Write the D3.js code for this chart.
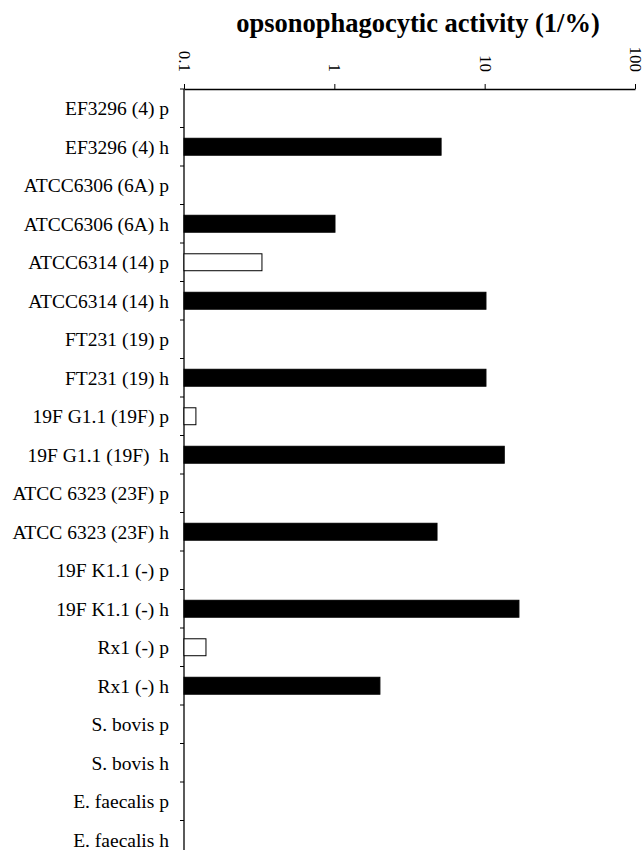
<!DOCTYPE html>
<html>
<head>
<meta charset="utf-8">
<script src="https://cdn.jsdelivr.net/npm/d3@7"></script>
<style>
  body { margin: 0; background: #fff; }
  svg { display: block; font-family: "Liberation Serif", "Times New Roman", serif; }
</style>
</head>
<body>
<div class="container"></div>
<script>
// strains, p = pre-immune, h = hyperimmune
const categories = [
  "EF3296 (4) p", "EF3296 (4) h",
  "ATCC6306 (6A) p", "ATCC6306 (6A) h",
  "ATCC6314 (14) p", "ATCC6314 (14) h",
  "FT231 (19) p", "FT231 (19) h",
  "19F G1.1 (19F) p", "19F G1.1 (19F)  h",
  "ATCC 6323 (23F) p", "ATCC 6323 (23F) h",
  "19F K1.1 (-) p", "19F K1.1 (-) h",
  "Rx1 (-) p", "Rx1 (-) h",
  "S. bovis p", "S. bovis h",
  "E. faecalis p", "E. faecalis h"
];
// opsonophagocytic activity (1/%), null = no bar
const activity = [
  null, 5.13,
  null, 1.01,
  0.33, 10.2,
  null, 10.2,
  0.12, 13.5,
  null, 4.82,
  null, 16.9,
  0.14, 2.01,
  null, null,
  null, null
];
const tickValues = [0.1, 1, 10, 100];
const tickLabels = ["0.1", "1", "10", "100"];

const width = 644, height = 850;
const svg = d3.select('.container').append('svg')
  .attr('width', width)
  .attr('height', height);

const x = d3.scaleLog().domain([0.1, 100]).range([184, 635]);
const y = d3.scaleBand().domain(categories).range([89, 89 + 20 * 38.5]).paddingInner(0.56).paddingOuter(0.28);

// title
svg.append('text')
  .attr('x', 418)
  .attr('y', 32)
  .attr('text-anchor', 'middle')
  .attr('font-size', 26.5)
  .attr('font-weight', 'bold')
  .text('opsonophagocytic activity (1/%)');

// top axis
const topAxis = svg.append('g')
  .attr('transform', 'translate(0,89)')
  .call(d3.axisTop(x).tickValues(tickValues).tickSize(5).tickSizeOuter(0)
    .tickFormat((d, i) => tickLabels[i]));
topAxis.select('.domain').attr('stroke', '#000').attr('stroke-width', 1.3);
topAxis.selectAll('.tick line').attr('stroke', '#000');
topAxis.selectAll('.tick text')
  .attr('font-size', 17)
  .attr('font-family', '"Liberation Serif", serif')
  .attr('fill', '#000')
  .attr('text-anchor', 'end')
  .attr('dy', null)
  .attr('transform', 'translate(0,-17) rotate(90)')
  .attr('x', 0)
  .attr('y', 0)
  .attr('dominant-baseline', 'central');

// left axis: line + ticks at band boundaries
const leftAxis = svg.append('g');
leftAxis.append('line')
  .attr('x1', x(0.1)).attr('x2', x(0.1))
  .attr('y1', 89).attr('y2', height + 20)
  .attr('stroke', '#000').attr('stroke-width', 1.3);
leftAxis.selectAll('line.bound')
  .data(categories)
  .join('line')
  .attr('class', 'bound')
  .attr('x1', x(0.1) - 4).attr('x2', x(0.1))
  .attr('y1', d => y(d) - y.step() * y.paddingInner() / 2)
  .attr('y2', d => y(d) - y.step() * y.paddingInner() / 2)
  .attr('stroke', '#000');

leftAxis.selectAll('text')
  .data(categories)
  .join('text')
  .attr('x', 169)
  .attr('y', d => y(d) + y.bandwidth() / 2)
  .attr('dy', '0.35em')
  .attr('text-anchor', 'end')
  .attr('font-size', 19.5)
  .style('white-space', 'pre')
  .text(d => d);

// bars
const rows = categories.map((c, i) => ({ cat: c, value: activity[i] }))
  .filter(d => d.value !== null);
svg.selectAll('rect.bar')
  .data(rows)
  .join('rect')
  .attr('class', 'bar')
  .attr('x', x(0.1))
  .attr('y', d => y(d.cat))
  .attr('width', d => x(d.value) - x(0.1))
  .attr('height', y.bandwidth())
  .attr('fill', d => d.cat.endsWith('h') ? '#000' : '#fff')
  .attr('stroke', '#000')
  .attr('stroke-width', 1);
</script>
</body>
</html>
